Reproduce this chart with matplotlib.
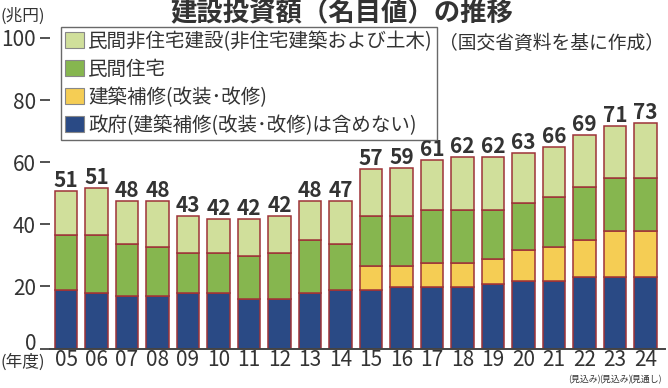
import matplotlib
matplotlib.use("Agg")
import matplotlib.pyplot as plt
import matplotlib.transforms as mtransforms
import numpy as np
from matplotlib.patches import Patch

plt.rcParams['font.family'] = ['Noto Sans CJK JP', 'DejaVu Sans']

# 年度
years = ['05', '06', '07', '08', '09', '10', '11', '12', '13', '14',
         '15', '16', '17', '18', '19', '20', '21', '22', '23', '24']
notes = {17: '(見込み)', 18: '(見込み)', 19: '(見通し)'}

# 兆円, 下から積み上げ
gov = [18.7, 17.9, 16.9, 16.9, 17.9, 17.9, 15.8, 15.8, 17.9, 18.7,
       18.7, 19.8, 19.8, 19.8, 20.9, 21.9, 21.9, 23.0, 23.0, 23.0]
repair = [0, 0, 0, 0, 0, 0, 0, 0, 0, 0,
          7.9, 6.8, 7.8, 7.8, 7.8, 9.9, 10.7, 11.8, 14.8, 14.8]
housing = [18.0, 18.8, 16.8, 15.7, 12.8, 12.8, 13.9, 14.9, 16.9, 15.0,
           16.1, 16.1, 17.0, 17.0, 15.9, 15.1, 16.1, 17.1, 17.0, 17.0]
nonres = [14.1, 15.0, 13.9, 15.0, 12.1, 10.9, 11.9, 12.1, 12.8, 13.9,
          15.1, 15.3, 16.1, 17.2, 17.2, 16.0, 16.1, 17.0, 16.9, 17.9]
totals = [51, 51, 48, 48, 43, 42, 42, 42, 48, 47,
          57, 59, 61, 62, 62, 63, 66, 69, 71, 73]

labels = ['民間非住宅建設(非住宅建築および土木)', '民間住宅',
          '建築補修(改装･改修)', '政府(建築補修(改装･改修)は含めない)']
colors = ['#d0df9b', '#86b64f', '#f5cd54', '#2a4a85']
edge = '#9e3338'
txt = '#333333'

W, H = 668, 388
fig = plt.figure(figsize=(W / 100, H / 100), dpi=100)
ax = fig.add_axes([50 / W, 39.5 / H, 615 / W, 310.5 / H])

x = np.arange(len(years))
segs = [gov, repair, housing, nonres]
seg_colors = colors[::-1]
bottom = np.zeros(len(years))
for vals, col in zip(segs, seg_colors):
    vals = np.array(vals)
    ax.bar(x, vals, bottom=bottom, width=0.74, color=col, edgecolor=edge,
           linewidth=1.1, zorder=2)
    bottom += vals

for i, t in enumerate(totals):
    ax.annotate(str(t), (x[i], bottom[i]), xytext=(0, 0), textcoords='offset points',
                ha='center', va='bottom', fontsize=15, fontweight='bold', color=txt)

for i, n in notes.items():
    ax.annotate(n, (x[i], 0), xycoords=('data', 'axes fraction'), xytext=(0, -22.5),
                textcoords='offset points', ha='center', va='center',
                fontsize=6.4, color=txt)

ax.set_xlim(-0.525, 19.64)
ax.set_ylim(0, 100)
ax.set_xticks(x)
ax.set_xticklabels(years)
ax.set_yticks([0, 20, 40, 60, 80, 100])
ax.tick_params(axis='x', length=0, pad=0, labelsize=15, labelcolor=txt)
ax.tick_params(axis='y', length=7, width=1.3, pad=3, labelsize=15,
               labelcolor=txt, color='#444444')
for s in ['top', 'right', 'left']:
    ax.spines[s].set_visible(False)
ax.spines['bottom'].set_color('#444444')
ax.spines['bottom'].set_linewidth(1.4)

# "0" sits a little above its tick in the reference
zero_lab = ax.get_yticklabels()[0]
zero_lab.set_transform(zero_lab.get_transform() +
                       mtransforms.ScaledTranslation(0, 5 / 72, fig.dpi_scale_trans))

fig.text(342 / W, 1 - 0 / H, '建設投資額（名目値）の推移', ha='center', va='top',
         fontsize=19, fontweight='bold', color=txt)
fig.text(0, 1 - 16 / H, '(兆円)', ha='left', va='center', fontsize=12, color=txt)
fig.text(0, 1 - 362 / H, '(年度)', ha='left', va='center', fontsize=12, color=txt)
fig.text(664 / W, 1 - 43 / H, '（国交省資料を基に作成）', ha='right', va='center',
         fontsize=13.5, color=txt)

handles = [Patch(facecolor=c, edgecolor='#888888', linewidth=0.8) for c in colors]
leg = fig.legend(handles, labels, loc='upper left',
                 bbox_to_anchor=(61 / W, 1 - 27 / H), borderaxespad=0,
                 fontsize=14, frameon=True, fancybox=False, borderpad=0.2,
                 labelspacing=0.36, handlelength=1.0, handleheight=0.9,
                 handletextpad=0.2, labelcolor=txt)
leg.get_frame().set_edgecolor('#444444')
leg.get_frame().set_linewidth(1.0)

fig.savefig('out.png', dpi=100)
